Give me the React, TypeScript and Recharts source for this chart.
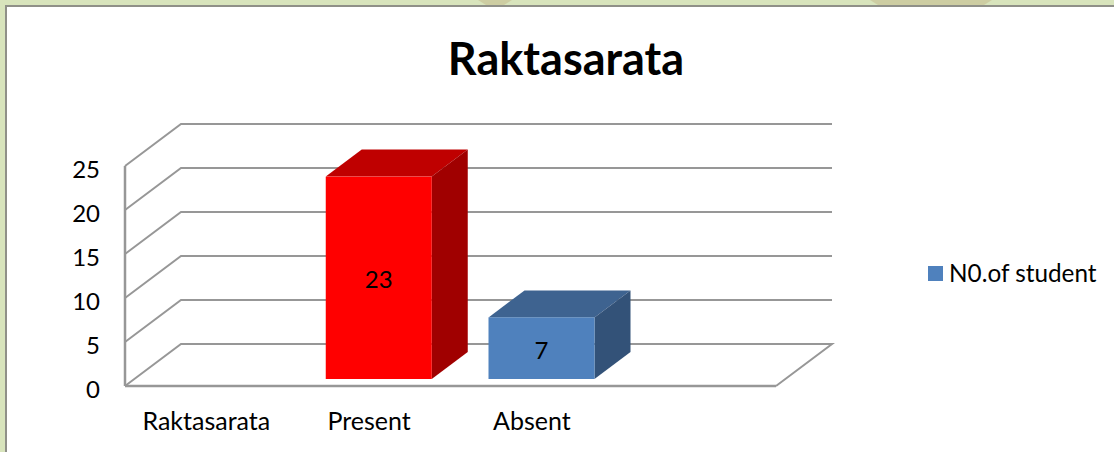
import { BarChart, Bar, XAxis, YAxis, CartesianGrid, Legend, LabelList } from "recharts";

const categories = ["Raktasarata", "Present", "Absent", ""];
const students = [null, 23, 7, null];
const yTicks = [0, 5, 10, 15, 20, 25];

const FONT = "Lato, sans-serif";
const BAR_COLORS: Record<string, { front: string; top: string; side: string }> = {
  Present: { front: "#ff0000", top: "#bf0000", side: "#a00000" },
  Absent: { front: "#4f81bd", top: "#3e6390", side: "#335278" },
};

// depth of the back wall, and of the bars standing on the floor
const WALL_DX = 56;
const WALL_DY = 42;
const BAR_SHIFT_X = 10;
const BAR_SHIFT_Y = 7;
const BAR_DX = 36;
const BAR_DY = 27;
const LINE_COLOR = "#979797";

const data = categories.map((name, i) => ({ name, students: students[i] }));

function WallLine(props: any) {
  const { x1, x2, y1, y, height } = props;
  const isFloor = Math.abs(y1 - (y + height)) < 1;
  const points = [
    [x1, y1],
    [x1 + WALL_DX, y1 - WALL_DY],
    [x2 + WALL_DX, y1 - WALL_DY],
  ];
  if (isFloor) points.push([x2, y1]);
  return (
    <polyline
      key={y1}
      points={points.map((p) => p.join(",")).join(" ")}
      fill="none"
      stroke={LINE_COLOR}
      strokeWidth={2}
    />
  );
}

function Box3D(props: any) {
  const { x, y, width, height, payload } = props;
  const colors = BAR_COLORS[payload.name];
  if (!colors) return null;
  const left = x + BAR_SHIFT_X;
  const right = left + width;
  const top = y - BAR_SHIFT_Y;
  const bottom = top + height;
  return (
    <g>
      <polygon
        points={`${left},${top} ${left + BAR_DX},${top - BAR_DY} ${right + BAR_DX},${top - BAR_DY} ${right},${top}`}
        fill={colors.top}
      />
      <polygon
        points={`${right},${top} ${right + BAR_DX},${top - BAR_DY} ${right + BAR_DX},${bottom - BAR_DY} ${right},${bottom}`}
        fill={colors.side}
      />
      <rect x={left} y={top} width={width} height={height} fill={colors.front} />
    </g>
  );
}

function BarValue(props: any) {
  const { x, y, width, height, value } = props;
  if (value == null) return null;
  return (
    <text
      x={x + width / 2 + BAR_SHIFT_X}
      y={y + height / 2 - BAR_SHIFT_Y + 1}
      textAnchor="middle"
      dominantBaseline="central"
      fontFamily={FONT}
      fontSize={24}
      fill="#000"
    >
      {value}
    </text>
  );
}

function LegendBox({ payload }: any) {
  return (
    <div>
      {(payload || []).map((item: any) => (
        <div key={item.value} style={{ display: "flex", alignItems: "center", height: 30 }}>
          <span style={{ width: 15, height: 15, marginRight: 6, background: item.color }} />
          <span style={{ color: "#000", fontFamily: FONT, fontSize: 24.3, position: "relative", top: -1 }}>
            {item.value}
          </span>
        </div>
      ))}
    </div>
  );
}

function TopShape({ left, width }: { left: number; width: number }) {
  return (
    <div
      style={{
        position: "absolute",
        left,
        top: 0,
        width,
        height: 5,
        background: "#cdcda2",
        clipPath: "polygon(0 0, 100% 0, calc(100% - 8px) 100%, 8px 100%)",
      }}
    />
  );
}

export default function App() {
  return (
    <div style={{ position: "absolute", left: 0, top: 0, width: 1114, height: 452, background: "#d8e4bc", overflow: "hidden" }}>
      <TopShape left={478} width={34} />
      <TopShape left={870} width={122} />
      <div
        style={{
          position: "absolute",
          left: 5,
          top: 5,
          width: 1120,
          height: 460,
          background: "#fff",
          border: "2px solid #8f9088",
          boxSizing: "border-box",
        }}
      />
      <div
        style={{
          position: "absolute",
          left: 0,
          top: 25,
          width: 1132,
          textAlign: "center",
          fontFamily: FONT,
          fontWeight: 700,
          fontSize: 45,
          lineHeight: "66px",
          color: "#000",
        }}
      >
        Raktasarata
      </div>
      <div style={{ position: "absolute", left: 0, top: 0 }}>
        <BarChart
          width={1114}
          height={452}
          data={data}
          margin={{ top: 166, right: 338, bottom: 0, left: 65 }}
          style={{ overflow: "visible" }}
        >
          <CartesianGrid vertical={false} horizontal={WallLine} />
          <XAxis
            dataKey="name"
            height={66}
            interval={0}
            tickLine={false}
            tickMargin={20}
            axisLine={{ stroke: LINE_COLOR, strokeWidth: 2.5 }}
            tick={{ fontFamily: FONT, fontSize: 25, fill: "#000" }}
          />
          <YAxis
            width={60}
            domain={[0, 25]}
            ticks={yTicks}
            tickLine={false}
            tickSize={0}
            tickMargin={25}
            axisLine={{ stroke: LINE_COLOR, strokeWidth: 2.5 }}
            tick={{ fontFamily: FONT, fontSize: 24, fill: "#000", dy: 3 }}
          />
          <Legend
            layout="vertical"
            align="center"
            verticalAlign="middle"
            wrapperStyle={{ left: 928, top: 258, width: 186 }}
            content={LegendBox}
          />
          <Bar
            dataKey="students"
            name="N0.of student"
            fill="#4f81bd"
            barSize={106}
            shape={Box3D}
            isAnimationActive={false}
          >
            <LabelList dataKey="students" content={BarValue} />
          </Bar>
        </BarChart>
      </div>
    </div>
  );
}
